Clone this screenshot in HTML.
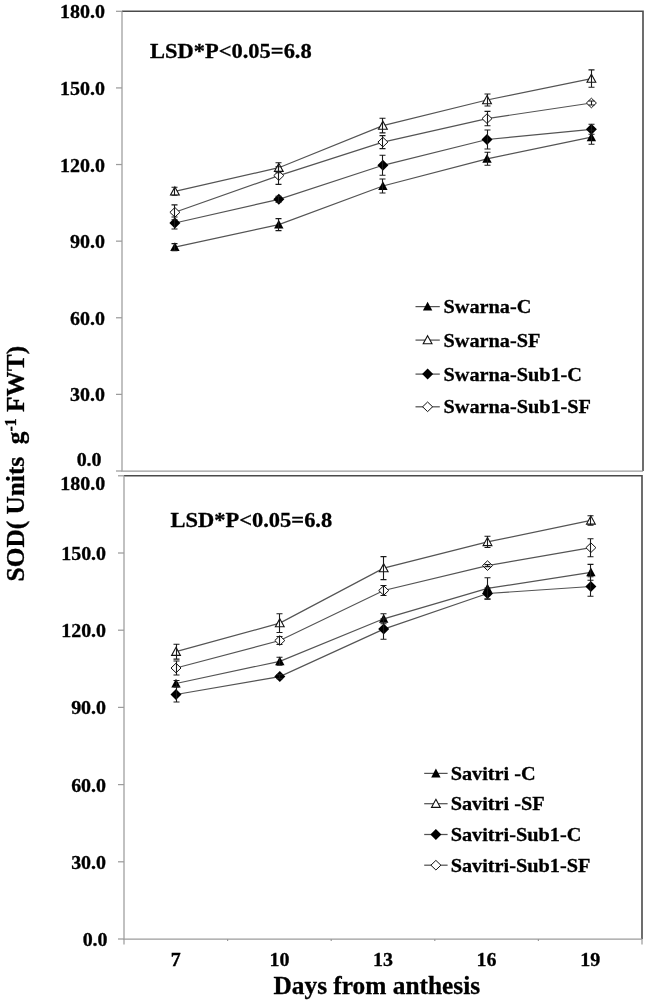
<!DOCTYPE html>
<html><head><meta charset="utf-8"><style>
html,body{margin:0;padding:0;background:#fff;width:645px;height:1002px;overflow:hidden}
svg{display:block;filter:grayscale(1) blur(0.35px)}
text{font-family:"Liberation Serif", serif;font-weight:bold;fill:#000;stroke:#000;stroke-width:0.3px}
.t{font-size:19.5px}
.lsd{font-size:22px}
.leg{font-size:19.5px}
.ttl{font-size:25px}
</style></head><body>
<svg width="645" height="1002" viewBox="0 0 645 1002">
<rect width="645" height="1002" fill="#fff"/>
<path d="M122 11.3H643V471" fill="none" stroke="#4a4a4a" stroke-width="1.6"/>
<path d="M122 11.3V471H643" fill="none" stroke="#9c9c9c" stroke-width="1.25"/>
<line x1="116" y1="11.30" x2="122" y2="11.30" stroke="#9c9c9c" stroke-width="1.25"/>
<text transform="translate(104.90 18.30) scale(1.025 1)" text-anchor="end" class="t">180.0</text>
<line x1="116" y1="87.92" x2="122" y2="87.92" stroke="#9c9c9c" stroke-width="1.25"/>
<text transform="translate(104.90 94.92) scale(1.025 1)" text-anchor="end" class="t">150.0</text>
<line x1="116" y1="164.53" x2="122" y2="164.53" stroke="#9c9c9c" stroke-width="1.25"/>
<text transform="translate(104.90 171.53) scale(1.025 1)" text-anchor="end" class="t">120.0</text>
<line x1="116" y1="241.15" x2="122" y2="241.15" stroke="#9c9c9c" stroke-width="1.25"/>
<text transform="translate(104.90 248.15) scale(1.025 1)" text-anchor="end" class="t">90.0</text>
<line x1="116" y1="317.77" x2="122" y2="317.77" stroke="#9c9c9c" stroke-width="1.25"/>
<text transform="translate(104.90 324.77) scale(1.025 1)" text-anchor="end" class="t">60.0</text>
<line x1="116" y1="394.38" x2="122" y2="394.38" stroke="#9c9c9c" stroke-width="1.25"/>
<text transform="translate(104.90 401.38) scale(1.025 1)" text-anchor="end" class="t">30.0</text>
<line x1="116" y1="471.00" x2="122" y2="471.00" stroke="#9c9c9c" stroke-width="1.25"/>
<text transform="translate(101.60 465.80) scale(1.025 1)" text-anchor="end" class="t">0.0</text>
<text transform="translate(150.00 58.00) scale(1.022 1)" class="lsd">LSD*P&lt;0.05=6.8</text>
<polyline points="174.9,247.1 278.8,224.6 382.9,186.0 487.0,158.8 591.4,137.2" fill="none" stroke="#545454" stroke-width="1.2"/>
<polyline points="174.9,191.3 278.8,167.7 382.9,125.6 487.0,100.0 591.4,78.6" fill="none" stroke="#545454" stroke-width="1.2"/>
<polyline points="174.9,223.0 278.8,199.3 382.9,165.3 487.0,139.5 591.4,129.3" fill="none" stroke="#545454" stroke-width="1.2"/>
<polyline points="174.9,212.3 278.8,175.6 382.9,142.1 487.0,118.6 591.4,103.0" fill="none" stroke="#545454" stroke-width="1.2"/>
<path d="M174.9 242.3L179.6 251.1H170.2Z" fill="#000"/>
<path d="M278.8 219.8L283.5 228.6H274.1Z" fill="#000"/>
<path d="M382.9 181.2L387.6 190.0H378.2Z" fill="#000"/>
<path d="M487.0 154.0L491.7 162.8H482.3Z" fill="#000"/>
<path d="M591.4 132.4L596.1 141.2H586.7Z" fill="#000"/>
<path d="M174.9 186.9L179.3 195.0H170.5Z" fill="#fff" stroke="#111" stroke-width="1.1"/>
<path d="M278.8 163.3L283.2 171.4H274.4Z" fill="#fff" stroke="#111" stroke-width="1.1"/>
<path d="M382.9 121.2L387.3 129.3H378.5Z" fill="#fff" stroke="#111" stroke-width="1.1"/>
<path d="M487.0 95.6L491.4 103.7H482.6Z" fill="#fff" stroke="#111" stroke-width="1.1"/>
<path d="M591.4 74.2L595.8 82.3H587.0Z" fill="#fff" stroke="#111" stroke-width="1.1"/>
<path d="M174.9 217.5L180.4 223.0L174.9 228.5L169.4 223.0Z" fill="#000"/>
<path d="M278.8 193.8L284.3 199.3L278.8 204.8L273.3 199.3Z" fill="#000"/>
<path d="M382.9 159.8L388.4 165.3L382.9 170.8L377.4 165.3Z" fill="#000"/>
<path d="M487.0 134.0L492.5 139.5L487.0 145.0L481.5 139.5Z" fill="#000"/>
<path d="M591.4 123.8L596.9 129.3L591.4 134.8L585.9 129.3Z" fill="#000"/>
<path d="M174.9 207.5L179.9 212.3L174.9 217.1L169.9 212.3Z" fill="#fff" stroke="#111" stroke-width="1"/>
<path d="M278.8 170.8L283.8 175.6L278.8 180.4L273.8 175.6Z" fill="#fff" stroke="#111" stroke-width="1"/>
<path d="M382.9 137.3L387.9 142.1L382.9 146.9L377.9 142.1Z" fill="#fff" stroke="#111" stroke-width="1"/>
<path d="M487.0 113.8L492.0 118.6L487.0 123.4L482.0 118.6Z" fill="#fff" stroke="#111" stroke-width="1"/>
<path d="M591.4 98.2L596.4 103.0L591.4 107.8L586.4 103.0Z" fill="#fff" stroke="#111" stroke-width="1"/>
<path d="M174.5 243.6V250.6M171.5 243.6h6M171.5 250.6h6" stroke="#1a1a1a" stroke-width="1.1" fill="none"/>
<path d="M278.5 218.6V230.6M275.5 218.6h6M275.5 230.6h6" stroke="#1a1a1a" stroke-width="1.1" fill="none"/>
<path d="M382.5 179.0V193.0M379.5 179.0h6M379.5 193.0h6" stroke="#1a1a1a" stroke-width="1.1" fill="none"/>
<path d="M487.5 152.3V165.3M484.5 152.3h6M484.5 165.3h6" stroke="#1a1a1a" stroke-width="1.1" fill="none"/>
<path d="M591.5 130.2V144.2M588.5 130.2h6M588.5 144.2h6" stroke="#1a1a1a" stroke-width="1.1" fill="none"/>
<path d="M174.5 187.3V195.3M171.5 187.3h6M171.5 195.3h6" stroke="#1a1a1a" stroke-width="1.1" fill="none"/>
<path d="M278.5 162.7V172.7M275.5 162.7h6M275.5 172.7h6" stroke="#1a1a1a" stroke-width="1.1" fill="none"/>
<path d="M382.5 118.3V132.9M379.5 118.3h6M379.5 132.9h6" stroke="#1a1a1a" stroke-width="1.1" fill="none"/>
<path d="M487.5 94.0V106.0M484.5 94.0h6M484.5 106.0h6" stroke="#1a1a1a" stroke-width="1.1" fill="none"/>
<path d="M591.5 69.9V87.3M588.5 69.9h6M588.5 87.3h6" stroke="#1a1a1a" stroke-width="1.1" fill="none"/>
<path d="M174.5 217.0V229.0M171.5 217.0h6M171.5 229.0h6" stroke="#1a1a1a" stroke-width="1.1" fill="none"/>
<path d="M278.5 196.3V202.3M275.5 196.3h6M275.5 202.3h6" stroke="#1a1a1a" stroke-width="1.1" fill="none"/>
<path d="M382.5 155.3V175.3M379.5 155.3h6M379.5 175.3h6" stroke="#1a1a1a" stroke-width="1.1" fill="none"/>
<path d="M487.5 130.0V149.0M484.5 130.0h6M484.5 149.0h6" stroke="#1a1a1a" stroke-width="1.1" fill="none"/>
<path d="M591.5 124.3V134.3M588.5 124.3h6M588.5 134.3h6" stroke="#1a1a1a" stroke-width="1.1" fill="none"/>
<path d="M174.5 204.9V219.7M171.5 204.9h6M171.5 219.7h6" stroke="#1a1a1a" stroke-width="1.1" fill="none"/>
<path d="M278.5 166.8V184.4M275.5 166.8h6M275.5 184.4h6" stroke="#1a1a1a" stroke-width="1.1" fill="none"/>
<path d="M382.5 135.6V148.6M379.5 135.6h6M379.5 148.6h6" stroke="#1a1a1a" stroke-width="1.1" fill="none"/>
<path d="M487.5 111.4V125.8M484.5 111.4h6M484.5 125.8h6" stroke="#1a1a1a" stroke-width="1.1" fill="none"/>
<path d="M591.5 101.0V105.0M588.5 101.0h6M588.5 105.0h6" stroke="#1a1a1a" stroke-width="1.1" fill="none"/>
<line x1="415.5" y1="306.6" x2="439.8" y2="306.6" stroke="#545454" stroke-width="1.25"/>
<path d="M427.6 301.8L432.3 310.6H422.9Z" fill="#000"/>
<text transform="translate(443.50 313.10) scale(1.04 1)" class="leg">Swarna-C</text>
<line x1="415.5" y1="340.1" x2="439.8" y2="340.1" stroke="#545454" stroke-width="1.25"/>
<path d="M427.6 335.7L432.0 343.8H423.2Z" fill="#fff" stroke="#111" stroke-width="1.1"/>
<text transform="translate(443.50 346.60) scale(1.04 1)" class="leg">Swarna-SF</text>
<line x1="415.5" y1="374.1" x2="439.8" y2="374.1" stroke="#545454" stroke-width="1.25"/>
<path d="M427.6 368.6L433.1 374.1L427.6 379.6L422.1 374.1Z" fill="#000"/>
<text transform="translate(443.50 380.60) scale(1.04 1)" class="leg">Swarna-Sub1-C</text>
<line x1="415.5" y1="406.8" x2="439.8" y2="406.8" stroke="#545454" stroke-width="1.25"/>
<path d="M427.6 402.0L432.6 406.8L427.6 411.6L422.6 406.8Z" fill="#fff" stroke="#111" stroke-width="1"/>
<text transform="translate(443.50 413.30) scale(1.04 1)" class="leg">Swarna-Sub1-SF</text>
<path d="M124 475.8H642V939" fill="none" stroke="#4a4a4a" stroke-width="1.6"/>
<path d="M124 475.8V939H642" fill="none" stroke="#9c9c9c" stroke-width="1.25"/>
<line x1="118" y1="475.80" x2="124" y2="475.80" stroke="#9c9c9c" stroke-width="1.25"/>
<text transform="translate(105.20 489.60) scale(1.025 1)" text-anchor="end" class="t">180.0</text>
<line x1="118" y1="553.00" x2="124" y2="553.00" stroke="#9c9c9c" stroke-width="1.25"/>
<text transform="translate(106.10 560.00) scale(1.025 1)" text-anchor="end" class="t">150.0</text>
<line x1="118" y1="630.20" x2="124" y2="630.20" stroke="#9c9c9c" stroke-width="1.25"/>
<text transform="translate(106.10 637.20) scale(1.025 1)" text-anchor="end" class="t">120.0</text>
<line x1="118" y1="707.40" x2="124" y2="707.40" stroke="#9c9c9c" stroke-width="1.25"/>
<text transform="translate(106.10 714.40) scale(1.025 1)" text-anchor="end" class="t">90.0</text>
<line x1="118" y1="784.60" x2="124" y2="784.60" stroke="#9c9c9c" stroke-width="1.25"/>
<text transform="translate(106.10 791.60) scale(1.025 1)" text-anchor="end" class="t">60.0</text>
<line x1="118" y1="861.80" x2="124" y2="861.80" stroke="#9c9c9c" stroke-width="1.25"/>
<text transform="translate(106.10 868.80) scale(1.025 1)" text-anchor="end" class="t">30.0</text>
<line x1="118" y1="939.00" x2="124" y2="939.00" stroke="#9c9c9c" stroke-width="1.25"/>
<text transform="translate(107.60 946.00) scale(1.025 1)" text-anchor="end" class="t">0.0</text>
<text transform="translate(170.50 526.50) scale(1.022 1)" class="lsd">LSD*P&lt;0.05=6.8</text>
<polyline points="176.0,683.5 279.8,661.3 383.7,618.8 487.5,588.4 590.9,572.3" fill="none" stroke="#545454" stroke-width="1.2"/>
<polyline points="176.0,651.7 279.8,623.1 383.7,568.1 487.5,541.9 590.9,520.4" fill="none" stroke="#545454" stroke-width="1.2"/>
<polyline points="176.0,694.5 279.8,676.6 383.7,629.1 487.5,593.5 590.9,586.5" fill="none" stroke="#545454" stroke-width="1.2"/>
<polyline points="176.0,668.0 279.8,640.5 383.7,590.5 487.5,565.6 590.9,547.7" fill="none" stroke="#545454" stroke-width="1.2"/>
<path d="M176.0 678.7L180.7 687.5H171.3Z" fill="#000"/>
<path d="M279.8 656.5L284.5 665.3H275.1Z" fill="#000"/>
<path d="M383.7 614.0L388.4 622.8H379.0Z" fill="#000"/>
<path d="M487.5 583.6L492.2 592.4H482.8Z" fill="#000"/>
<path d="M590.9 567.5L595.6 576.3H586.2Z" fill="#000"/>
<path d="M176.0 647.3L180.4 655.4H171.6Z" fill="#fff" stroke="#111" stroke-width="1.1"/>
<path d="M279.8 618.7L284.2 626.8H275.4Z" fill="#fff" stroke="#111" stroke-width="1.1"/>
<path d="M383.7 563.7L388.1 571.8H379.3Z" fill="#fff" stroke="#111" stroke-width="1.1"/>
<path d="M487.5 537.5L491.9 545.6H483.1Z" fill="#fff" stroke="#111" stroke-width="1.1"/>
<path d="M590.9 516.0L595.3 524.1H586.5Z" fill="#fff" stroke="#111" stroke-width="1.1"/>
<path d="M176.0 689.0L181.5 694.5L176.0 700.0L170.5 694.5Z" fill="#000"/>
<path d="M279.8 671.1L285.3 676.6L279.8 682.1L274.3 676.6Z" fill="#000"/>
<path d="M383.7 623.6L389.2 629.1L383.7 634.6L378.2 629.1Z" fill="#000"/>
<path d="M487.5 588.0L493.0 593.5L487.5 599.0L482.0 593.5Z" fill="#000"/>
<path d="M590.9 581.0L596.4 586.5L590.9 592.0L585.4 586.5Z" fill="#000"/>
<path d="M176.0 663.2L181.0 668.0L176.0 672.8L171.0 668.0Z" fill="#fff" stroke="#111" stroke-width="1"/>
<path d="M279.8 635.7L284.8 640.5L279.8 645.3L274.8 640.5Z" fill="#fff" stroke="#111" stroke-width="1"/>
<path d="M383.7 585.7L388.7 590.5L383.7 595.3L378.7 590.5Z" fill="#fff" stroke="#111" stroke-width="1"/>
<path d="M487.5 560.8L492.5 565.6L487.5 570.4L482.5 565.6Z" fill="#fff" stroke="#111" stroke-width="1"/>
<path d="M590.9 542.9L595.9 547.7L590.9 552.5L585.9 547.7Z" fill="#fff" stroke="#111" stroke-width="1"/>
<path d="M176.5 680.5V686.5M173.5 680.5h6M173.5 686.5h6" stroke="#1a1a1a" stroke-width="1.1" fill="none"/>
<path d="M279.5 657.3V665.3M276.5 657.3h6M276.5 665.3h6" stroke="#1a1a1a" stroke-width="1.1" fill="none"/>
<path d="M383.5 613.8V623.8M380.5 613.8h6M380.5 623.8h6" stroke="#1a1a1a" stroke-width="1.1" fill="none"/>
<path d="M487.5 577.7V599.1M484.5 577.7h6M484.5 599.1h6" stroke="#1a1a1a" stroke-width="1.1" fill="none"/>
<path d="M590.5 564.4V580.2M587.5 564.4h6M587.5 580.2h6" stroke="#1a1a1a" stroke-width="1.1" fill="none"/>
<path d="M176.5 644.3V659.1M173.5 644.3h6M173.5 659.1h6" stroke="#1a1a1a" stroke-width="1.1" fill="none"/>
<path d="M279.5 613.7V632.5M276.5 613.7h6M276.5 632.5h6" stroke="#1a1a1a" stroke-width="1.1" fill="none"/>
<path d="M383.5 556.6V579.6M380.5 556.6h6M380.5 579.6h6" stroke="#1a1a1a" stroke-width="1.1" fill="none"/>
<path d="M487.5 536.3V547.5M484.5 536.3h6M484.5 547.5h6" stroke="#1a1a1a" stroke-width="1.1" fill="none"/>
<path d="M590.5 515.7V525.1M587.5 515.7h6M587.5 525.1h6" stroke="#1a1a1a" stroke-width="1.1" fill="none"/>
<path d="M176.5 687.0V702.0M173.5 687.0h6M173.5 702.0h6" stroke="#1a1a1a" stroke-width="1.1" fill="none"/>
<path d="M279.5 674.6V678.6M276.5 674.6h6M276.5 678.6h6" stroke="#1a1a1a" stroke-width="1.1" fill="none"/>
<path d="M383.5 618.9V639.3M380.5 618.9h6M380.5 639.3h6" stroke="#1a1a1a" stroke-width="1.1" fill="none"/>
<path d="M487.5 588.0V599.0M484.5 588.0h6M484.5 599.0h6" stroke="#1a1a1a" stroke-width="1.1" fill="none"/>
<path d="M590.5 576.8V596.2M587.5 576.8h6M587.5 596.2h6" stroke="#1a1a1a" stroke-width="1.1" fill="none"/>
<path d="M176.5 661.0V675.0M173.5 661.0h6M173.5 675.0h6" stroke="#1a1a1a" stroke-width="1.1" fill="none"/>
<path d="M279.5 636.5V644.5M276.5 636.5h6M276.5 644.5h6" stroke="#1a1a1a" stroke-width="1.1" fill="none"/>
<path d="M383.5 585.5V595.5M380.5 585.5h6M380.5 595.5h6" stroke="#1a1a1a" stroke-width="1.1" fill="none"/>
<path d="M487.5 564.6V566.6M484.5 564.6h6M484.5 566.6h6" stroke="#1a1a1a" stroke-width="1.1" fill="none"/>
<path d="M590.5 538.7V556.7M587.5 538.7h6M587.5 556.7h6" stroke="#1a1a1a" stroke-width="1.1" fill="none"/>
<line x1="424.2" y1="773.4" x2="447.6" y2="773.4" stroke="#545454" stroke-width="1.25"/>
<path d="M435.9 768.6L440.6 777.4H431.2Z" fill="#000"/>
<text transform="translate(450.70 779.70) scale(1.04 1)" class="leg">Savitri -C</text>
<line x1="424.2" y1="803.7" x2="447.6" y2="803.7" stroke="#545454" stroke-width="1.25"/>
<path d="M435.9 799.3L440.3 807.4H431.5Z" fill="#fff" stroke="#111" stroke-width="1.1"/>
<text transform="translate(450.70 810.00) scale(1.04 1)" class="leg">Savitri -SF</text>
<line x1="424.2" y1="834.5" x2="447.6" y2="834.5" stroke="#545454" stroke-width="1.25"/>
<path d="M435.9 829.0L441.4 834.5L435.9 840.0L430.4 834.5Z" fill="#000"/>
<text transform="translate(450.70 840.80) scale(1.04 1)" class="leg">Savitri-Sub1-C</text>
<line x1="424.2" y1="865.2" x2="447.6" y2="865.2" stroke="#545454" stroke-width="1.25"/>
<path d="M435.9 860.4L440.9 865.2L435.9 870.0L430.9 865.2Z" fill="#fff" stroke="#111" stroke-width="1"/>
<text transform="translate(450.70 871.50) scale(1.04 1)" class="leg">Savitri-Sub1-SF</text>
<text transform="translate(175.80 965.50) scale(1.025 1)" text-anchor="middle" class="t">7</text>
<text transform="translate(279.40 965.50) scale(1.025 1)" text-anchor="middle" class="t">10</text>
<text transform="translate(383.00 965.50) scale(1.025 1)" text-anchor="middle" class="t">13</text>
<text transform="translate(486.60 965.50) scale(1.025 1)" text-anchor="middle" class="t">16</text>
<text transform="translate(590.20 965.50) scale(1.025 1)" text-anchor="middle" class="t">19</text>
<line x1="124.0" y1="939" x2="124.0" y2="944.5" stroke="#999" stroke-width="1.2"/>
<line x1="227.6" y1="939" x2="227.6" y2="941" stroke="#999" stroke-width="1.2"/>
<line x1="331.2" y1="939" x2="331.2" y2="941" stroke="#999" stroke-width="1.2"/>
<line x1="434.8" y1="939" x2="434.8" y2="941" stroke="#999" stroke-width="1.2"/>
<line x1="538.4" y1="939" x2="538.4" y2="941" stroke="#999" stroke-width="1.2"/>
<line x1="642.0" y1="939" x2="642.0" y2="944.5" stroke="#999" stroke-width="1.2"/>

<text transform="translate(376.80 994.00) scale(1.015 1)" text-anchor="middle" class="ttl">Days from anthesis</text>
<text transform="translate(24.0 463.6) rotate(-90) scale(0.99 1)" text-anchor="middle" class="ttl" style="white-space:pre;font-size:25.6px">SOD( Units  g<tspan font-size="16" dy="-7.6">-1</tspan><tspan dy="7.6"> FWT)</tspan></text>
</svg>
</body></html>
